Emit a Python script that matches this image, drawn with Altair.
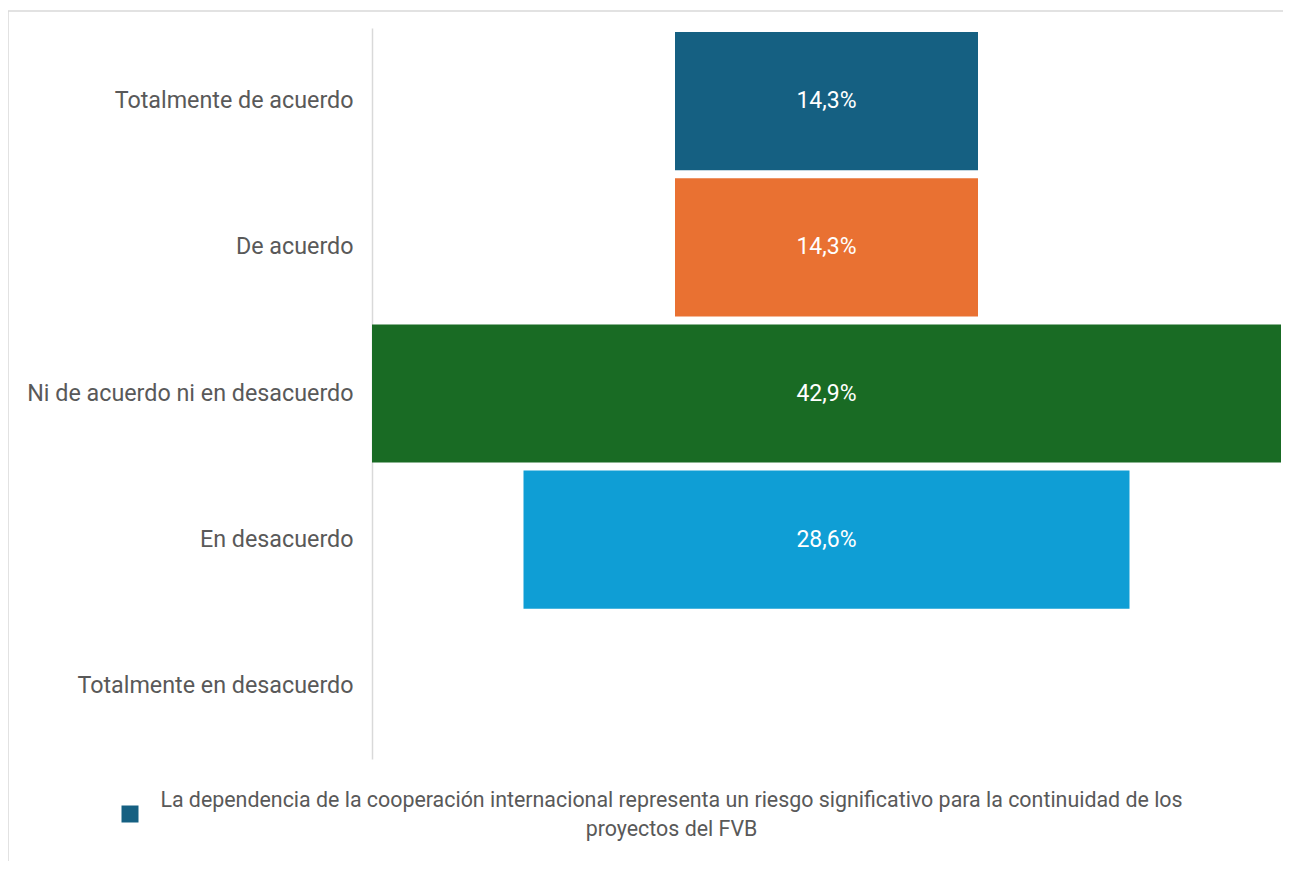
import altair as alt
import pandas as pd

categories = ["Totalmente de acuerdo", "De acuerdo", "Ni de acuerdo ni en desacuerdo",
              "En desacuerdo", "Totalmente en desacuerdo"]
values = [14.3, 14.3, 42.9, 28.6, 0.0]
labels = ["14,3%", "14,3%", "42,9%", "28,6%", ""]
colors = ["#156082", "#E97132", "#196B24", "#0F9ED5", "#A02B93"]
legend_lines = ["La dependencia de la cooperación internacional representa un riesgo significativo para la continuidad de los",
                "proyectos del FVB"]

df = pd.DataFrame({"cat": categories, "val": values, "lab": labels})
df["lo"] = -df["val"] / 2
df["hi"] = df["val"] / 2

half = max(values) / 2
xs = alt.Scale(domain=[-half, half], nice=False, zero=False)
ys = alt.Scale(domain=categories, paddingInner=0.055, paddingOuter=0.0275)
cs = alt.Scale(domain=categories, range=colors)

W, H = 909, 731

base = alt.Chart(df)

bars = base.transform_filter(alt.datum.val > 0).mark_bar().encode(
    y=alt.Y("cat:N", scale=ys, sort=categories,
            axis=alt.Axis(title=None, ticks=False, labelFontSize=23.3, labelColor="#595959",
                          labelFont="Roboto", labelPadding=19, domainColor="#d9d9d9",
                          domainWidth=1.5, labelLimit=400, grid=False)),
    x=alt.X("lo:Q", scale=xs, axis=None),
    x2="hi:Q",
    color=alt.Color("cat:N", scale=cs, legend=None),
)

texts = base.transform_filter(alt.datum.val > 0).mark_text(
    color="white", fontSize=23, font="Roboto", align="center", baseline="middle"
).encode(
    y=alt.Y("cat:N", scale=ys, sort=categories),
    x=alt.value(W / 2),
    text="lab:N",
)

leg_df = pd.DataFrame({"t": ["\n".join(legend_lines)], "c": [categories[0]]})
leg_sq = alt.Chart(leg_df).mark_square(size=289, opacity=1, filled=True).encode(
    x=alt.value(130 - 372), y=alt.value(814 - 28),
    color=alt.Color("c:N", scale=cs, legend=None),
)
leg_txt = alt.Chart(leg_df).mark_text(
    fontSize=21.4, font="Roboto", color="#595959",
    align="center", baseline="middle", lineBreak="\n", lineHeight=29,
).encode(
    x=alt.value(671.5 - 372), y=alt.value(801 - 28), text="t:N",
)

frame_df = pd.DataFrame({"a": [0]})
frame_top = alt.Chart(frame_df).mark_rule(color="#d9d9d9", strokeWidth=1.5).encode(
    x=alt.value(8 - 372), x2=alt.value(1300 - 372), y=alt.value(11 - 28))
frame_left = alt.Chart(frame_df).mark_rule(color="#d9d9d9", strokeWidth=1.5).encode(
    x=alt.value(8 - 372), y=alt.value(11 - 28), y2=alt.value(900 - 28))

chart = alt.layer(frame_top, frame_left, bars, texts, leg_sq, leg_txt).properties(
    width=W, height=H,
    autosize=alt.AutoSizeParams(type="none"),
    padding={"left": 364, "top": 20, "right": 2, "bottom": 102},
).configure(background="white").configure_view(strokeWidth=0, stroke="transparent")

chart.save("out.html", embed_options={"renderer": "svg", "actions": False})
